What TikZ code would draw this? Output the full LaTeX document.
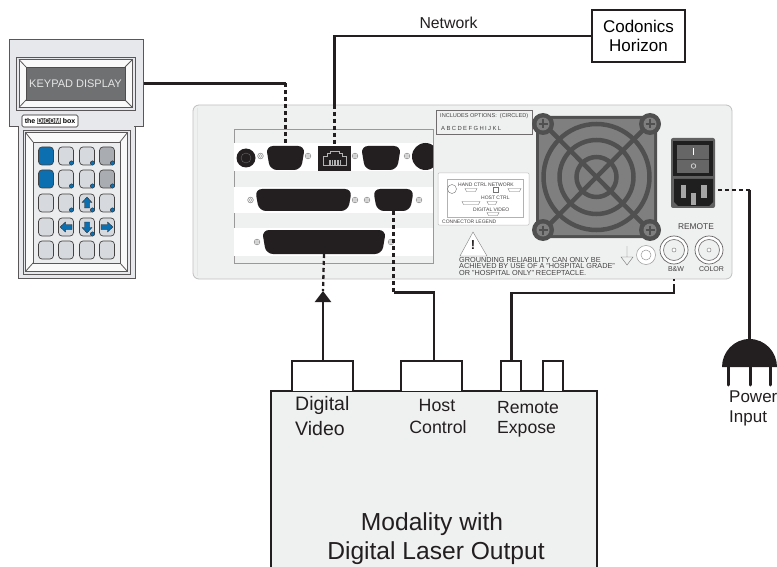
\documentclass[tikz,border=0pt]{standalone}
\usepackage{fontspec}
\setmainfont{Liberation Sans}
\usetikzlibrary{arrows.meta}
\definecolor{panel}{HTML}{EFF1F0}
\definecolor{ink}{HTML}{231F20}
\definecolor{keyblue}{HTML}{0B6FB0}
\definecolor{keygray}{HTML}{D6D9DD}
\definecolor{keydark}{HTML}{A9ACB0}
\definecolor{lcd}{HTML}{6E7072}
\definecolor{fanbar}{HTML}{505050}
\definecolor{fanopen}{HTML}{7F7F7F}
\newcommand{\fs}[1]{\fontsize{#1}{#1}\selectfont}
\newcommand{\gp}{\kern1.4pt\space}
\tikzset{
 x=1pt,y=-1pt,
 wire/.style={draw=ink,line width=2.2pt,line join=miter},
 dashwire/.style={draw=ink,line width=2.3pt,dash pattern=on 4pt off 3pt},
 housing/.style={draw=ink!75,line width=1pt,fill=keygray!60},
 bar/.style={draw=ink!75,line width=.8pt},
 keycap/.style={draw=ink!85,line width=.7pt,rounded corners=3.5pt,fill=keygray},
 dsubc/.style={fill=ink,draw=none,rounded corners=7pt},
 screw/.style={draw=black!45,fill=white,line width=.6pt},
 tiny/.style={inner sep=0,anchor=west,text=ink!85},
 lab/.style={inner sep=0,anchor=west,text=ink,align=left},
 box/.style={draw=ink,line width=1.3pt,inner sep=0},
 port/.style={draw=ink,line width=1.3pt,fill=white},
}
\newcommand{\keycap}[3]{\draw[keycap,fill=#3] (#1-7.5,#2-9) rectangle (#1+7.5,#2+9);}
\newcommand{\keydot}[2]{\fill[keyblue,draw=ink,line width=.3pt] (#1+5.5,#2+7) circle[radius=2.2];}
\newcommand{\bezel}[8]{% outer x1,y1,x2,y2 inner x1,y1,x2,y2
 \draw[bar,fill=keygray!60] (#1,#2) rectangle (#3,#4);
 \draw[bar,fill=white!85!keygray] (#1+2.5,#2+2.5) rectangle (#3-2.5,#4-2.5);
 \draw[bar] (#1+2.5,#2+2.5)--(#5,#6) (#3-2.5,#2+2.5)--(#7,#6) (#1+2.5,#4-2.5)--(#5,#8) (#3-2.5,#4-2.5)--(#7,#8);
 \draw[bar,fill=keygray!50] (#5,#6) rectangle (#7,#8);}
\newcommand{\dsub}[5]{% name, x1, x2, y1, y2
 \fill[dsubc] (#2,#4)--(#3,#4)--(#3-4,#5)--(#2+4,#5)--cycle;
 \coordinate (#1t) at ({(#2+#3)/2},#4);
 \coordinate (#1b) at ({(#2+#3)/2},#5);}
\newcommand{\scr}[2]{\draw[screw] (#1,#2) circle[radius=2.8]; \draw[draw=black!35,line width=.4pt] (#1,#2) circle[radius=1.5];}
\newcommand{\bnc}[2]{\draw[draw=ink!70,fill=white,line width=.7pt] (#1,#2) circle[radius=14];
 \draw[draw=ink!60,line width=.7pt,fill=panel] (#1,#2) circle[radius=10.5];
 \draw[draw=ink!55,fill=white,line width=.5pt] (#1,#2) circle[radius=2];}
\begin{document}
\begin{tikzpicture}
\useasboundingbox (0,0) rectangle (777,567);
% ---------- keypad
\draw[housing] (18,127) -- (18,278) -- (135,278) -- (135,127) -- cycle;
\node[housing,minimum width=134pt,minimum height=87pt,inner sep=0] (kpd) at (76,83.5) {};
\fill[keygray!60] (18.6,125) rectangle (134.4,128);
\bezel{16.5}{57}{135}{110}{26}{67}{125}{100}
\node[fill=lcd,draw=ink!80,line width=.6pt,minimum width=99pt,minimum height=33pt,inner sep=0,text=white!90!black,font=\fs{11}] (kpdisp) at (75.5,83.5) {KEYPAD DISPLAY};
\bezel{23}{130}{130}{274}{33}{142}{120}{263}
\node[draw=ink,fill=white,line width=.7pt,rounded corners=1.5pt,minimum width=56pt,minimum height=12pt,inner sep=0] (logo) at (50,121) {};
\node[inner sep=0,font=\fs{7}\bfseries] (logot) at (50,121) {the\kern1.5pt\setlength{\fboxsep}{.6pt}\colorbox{ink!80}{\textcolor{white}{DiCOM}}\kern1.5pt box};
\foreach \yy/\c in {156/keyblue,179/keyblue}{\keycap{46}{\yy}{\c}}
\foreach \yy in {156,179}{\keycap{66}{\yy}{keygray}\keycap{87}{\yy}{keygray}\keycap{107}{\yy}{keydark}}
\foreach \xx in {46,66,87,107}{\keycap{\xx}{203}{keygray}\keycap{\xx}{227}{keygray}\keycap{\xx}{250}{keygray}}
% arrows
\fill[keyblue,draw=ink,line width=.3pt] (87,197)--(92,202.5)--(89.5,202.5)--(89.5,208)--(84.5,208)--(84.5,202.5)--(82,202.5)--cycle;
\fill[keyblue,draw=ink,line width=.3pt] (87,233)--(92,227.5)--(89.5,227.5)--(89.5,222)--(84.5,222)--(84.5,227.5)--(82,227.5)--cycle;
\fill[keyblue,draw=ink,line width=.3pt] (60,227)--(65.5,222)--(65.5,224.5)--(72,224.5)--(72,229.5)--(65.5,229.5)--(65.5,232)--cycle;
\fill[keyblue,draw=ink,line width=.3pt] (113,227)--(107.5,222)--(107.5,224.5)--(101,224.5)--(101,229.5)--(107.5,229.5)--(107.5,232)--cycle;
\foreach \xx/\yy in {66/156,87/156,107/156,66/179,87/179,107/179,66/203,87/203,107/203,87/227}{\keydot{\xx}{\yy}}
% ---------- back panel
\draw[draw=black!25,fill=panel,line width=.8pt,rounded corners=6pt] (193,105) rectangle (732,279);
\draw[draw=black!10,line width=.5pt] (197,108) -- (197,276);
\draw[draw=black!40,fill=panel,line width=.5pt] (234,129) rectangle (433,263);
\foreach \a/\b in {143/171,187/213,228/256}{\fill[white] (234.4,\a) rectangle (432.6,\b);}
\begin{scope}
\clip (234,129) rectangle (433,263);
\fill[ink] (425.5,156.5) circle[radius=13.5];
\end{scope}
\fill[ink] (246,158) circle[radius=9.5];
\draw[black!60,line width=.4pt] (246,158) circle[radius=5];
\dsub{hand}{266}{305}{146}{170}
\node[fill=ink,draw=none,minimum width=33pt,minimum height=25pt,inner sep=0] (net) at (334.5,158.5) {};
\draw[white!70!black,line width=.7pt] (323,165)--(323,156)--(327,156)--(327,153)--(330,153)--(330,151)--(339,151)--(339,153)--(342,153)--(342,156)--(346,156)--(346,165)--cycle;
\foreach \i in {0,...,7}{\draw[white!70!black,line width=.35pt] (329+\i*1.6,160)--(329+\i*1.6,165);}
\dsub{dsubb}{361}{401}{146}{170}
\dsub{host2}{255}{352}{189}{211}
\dsub{host}{373}{414}{189}{211}
\dsub{video}{262}{386}{230}{254}
\foreach \xx/\yy in {260.5/156,308/156,355/156,407/156,250.5/200,355/200,367/200,419/200,257/242,391/242}{\scr{\xx}{\yy}}
% options box
\node[draw=ink!65,fill=panel,line width=.9pt,minimum width=96pt,minimum height=24pt,inner sep=0] (opts) at (484,122) {};
\node[tiny,font=\fs{5.6}] (optsa) at (440,116.5) {INCLUDES OPTIONS:\ \ (CIRCLED)};
\node[tiny,font=\fs{5.9}] (optsb) at (441,128) {A\gp B\gp C\gp D\gp E\gp F\gp G\gp H\gp I\gp J\gp K\gp L};
% legend
\draw[draw=black!25,fill=white,line width=.5pt,rounded corners=1pt] (438,173) rectangle (529,225);
\draw[draw=black!30,line width=.4pt,fill=white] (447,179) rectangle (523,217);
\draw[black!55,line width=.4pt] (452,189) circle[radius=4.5];
\foreach \a/\b/\cc in {465/477/190,508/521/190,462/480/203,487/497/203,487/499/214}{
 \draw[black!55,line width=.4pt] (\a,\cc-1.5)--(\b,\cc-1.5)--(\b-1.5,\cc+1.5)--(\a+1.5,\cc+1.5)--cycle;}
\draw[black!55,line width=.4pt] (493,187) rectangle (498,192);
\node[tiny,font=\fs{5}] (lga) at (458,185) {HAND CTRL};
\node[tiny,font=\fs{5}] (lgb) at (488,185) {NETWORK};
\node[tiny,font=\fs{5}] (lgc) at (481,198) {HOST CTRL};
\node[tiny,font=\fs{5}] (lgd) at (473,209.5) {DIGITAL VIDEO};
\node[tiny,font=\fs{5}] (lge) at (442,221.5) {CONNECTOR LEGEND};
% warning
\draw[draw=black!50,fill=white,line width=.4pt] (473,232)--(487,256)--(460,256)--cycle;
\node[inner sep=0,font=\fs{13}\bfseries,text=ink] (warn) at (473,245) {!};
\node[tiny,font=\fs{7.3}] (wa) at (459,259.5) {GROUNDING RELIABILITY CAN ONLY BE};
\node[tiny,font=\fs{7.3}] (wb) at (459,266) {ACHIEVED BY USE OF A "HOSPITAL GRADE"};
\node[tiny,font=\fs{7.3}] (wc) at (459,272.5) {OR "HOSPITAL ONLY" RECEPTACLE.};
% fan
\begin{scope}
\fill[fanbar,rounded corners=7pt] (536,116) rectangle (657,238);
\clip[rounded corners=6pt] (539,119) rectangle (654,235);
\fill[fanopen] (536,116) rectangle (657,238);
\draw[fanbar,line width=4.5pt] (596.5,177) circle[radius=53];
\draw[fanbar,line width=4.5pt] (596.5,177) circle[radius=37];
\draw[fanbar,line width=4.5pt] (596.5,177) circle[radius=20];
\draw[fanbar,line width=4.5pt] (540,120)--(653,234) (653,120)--(540,234);
\end{scope}
\foreach \xx/\yy in {543/124,650/124,543/230,650/230}{
 \fill[fanbar] (\xx,\yy) circle[radius=11];
 \fill[fanopen] (\xx,\yy) circle[radius=6.5];
 \draw[fanbar,line width=1.6pt] (\xx-4.5,\yy)--(\xx+4.5,\yy) (\xx,\yy-4.5)--(\xx,\yy+4.5);}
% power switch
\node[fill=black!62,draw=none,rounded corners=2pt,minimum width=44pt,minimum height=70pt,inner sep=0] (sw) at (693,173) {};
\fill[black!88] (673,141) rectangle (713,176);
\fill[black!60] (677,145) rectangle (709,173);
\fill[black!75] (677,159) rectangle (709,159.6);
\fill[white] (693,148) rectangle (694,155);
\draw[white!85!black,line width=.7pt] (693.5,166) circle[radius=2.3];
\fill[black!88] (674,179)--(713,179)--(713,202)--(709,206)--(678,206)--(674,202)--cycle;
\fill[black!35] (681,185) rectangle (686,198);
\fill[black!35] (691,193) rectangle (696,205);
\fill[black!35] (701,185) rectangle (707,198);
% ground and BNC
\draw[black!55,line width=.4pt] (627,246)--(627,257) (621,257)--(633,257)--(627,265)--cycle;
\draw[black!40,fill=white,line width=.5pt] (646,255) circle[radius=9.5];
\draw[black!40,line width=.5pt] (646,255) circle[radius=5];
\bnc{674}{250}
\bnc{709}{250}
\node[inner sep=0,font=\fs{8.4},text=ink!85] (rem) at (696,227) {REMOTE};
\node[inner sep=0,font=\fs{7},text=ink!85] (bw) at (676,269.5) {B\&W};
\node[inner sep=0,font=\fs{7},text=ink!85] (col) at (711.5,269.5) {COLOR};
\coordinate (bwb) at (674,279);
\coordinate (inlet) at (718,190);
% ---------- modality
\draw[draw=none,fill=panel] (271,391) rectangle (597,567);
\draw[draw=ink,line width=1.3pt] (271,567)--(271,391)--(597,391)--(597,567);
\draw[port] (292,391)--(292,361)--(353,361)--(353,391);
\draw[port] (401,391)--(401,361)--(462,361)--(462,391);
\draw[port] (501,391)--(501,361)--(521,361)--(521,391);
\draw[port] (543,391)--(543,361)--(563,361)--(563,391);
\coordinate (pvideo) at (323,361);
\coordinate (phost) at (434,361);
\coordinate (premote) at (511.5,361);
\node[lab,font=\fs{19.5}] (tvid) at (295,405) {Digital};
\node[lab,font=\fs{19.5}] (tvid2) at (295,429) {Video};
\node[inner sep=0,font=\fs{17.8},text=ink] (thost) at (437,405) {Host};
\node[inner sep=0,font=\fs{17.8},text=ink] (thost2) at (438,427) {Control};
\node[lab,font=\fs{17.6}] (trem) at (497,408) {Remote};
\node[lab,font=\fs{17.6}] (trem2) at (497,429) {Expose};
\node[inner sep=0,font=\fs{24.6},text=ink] (tmod) at (432,524) {Modality with};
\node[inner sep=0,font=\fs{24.6},text=ink] (tmod2) at (436,553) {Digital Laser Output};
% ---------- plug and external
\fill[ink] (722,367) .. controls (722,352) and (734,339) .. (749.5,339) .. controls (765,339) and (777,352) .. (777,367) -- cycle;
\coordinate (plug) at (749.5,339);
\foreach \xx in {728,750,770}{\draw[ink,line width=3pt,line cap=round] (\xx,366)--(\xx,385);}
\node[lab,font=\fs{17}] (tpow) at (729,397) {Power};
\node[lab,font=\fs{17}] (tpow2) at (729,418) {Input};
\node[box,minimum width=93pt,minimum height=52pt,fill=white,align=center,font=\fs{17}] (cod) at (638.5,36) {Codonics\\[2.5pt]Horizon};
\node[inner sep=0,font=\fs{15.8},text=ink] (tnet) at (448.5,23) {Network};
% ---------- connectors
\coordinate (yv) at (0,291);
\coordinate (yh) at (0,292.5);
\coordinate (yr) at (0,293);
\coordinate (yn) at (0,105);
\coordinate (kc) at (handt |- kpd.east);
\coordinate (nc) at (net.north |- cod.west);
\coordinate (nd) at (net.north |- yn);
\draw[wire] (kpd.east) -- (kc);
\draw[dashwire] (kc) -- (handt);
\draw[wire] (cod.west) -- (nc) -- (nd);
\draw[dashwire] (nd) -- (net.north);
\coordinate (varrow) at (pvideo |- yv);
\draw[dashwire] (videob) -- (varrow);
\draw[wire,-{Triangle[width=16pt,length=11pt]}] (pvideo) -- (varrow);
\coordinate (hc) at (hostb |- yh);
\draw[dashwire] (hostb) -- (hc);
\draw[wire] (hc) -- (phost |- hc) -- (phost);
\coordinate (rc) at (bwb |- yr);
\coordinate (rd) at (674,288);
\draw[wire] (premote) -- (premote |- rc) -- (rc) -- (rd);
\draw[dashwire] (rd) -- (bwb);
\coordinate (pc) at (plug |- inlet);
\draw[dashwire] (inlet) -- (pc);
\draw[wire] (pc) -- (plug);
\end{tikzpicture}
\end{document}
